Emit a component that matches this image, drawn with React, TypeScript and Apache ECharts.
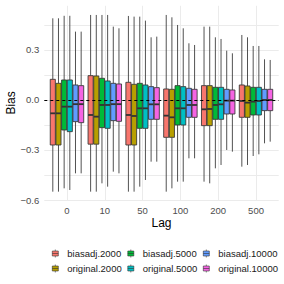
import React, { useEffect, useRef } from 'react';
import * as echarts from 'echarts';

const lagLabels = ['0', '10', '50', '100', '200', '500'];
const seriesNames = ['biasadj.2000', 'original.2000', 'biasadj.5000', 'original.5000', 'biasadj.10000', 'original.10000'];
const seriesColors = ['#F8766D', '#B79F00', '#00BA38', '#00BFC4', '#619CFF', '#F564E3'];

// Each row: [lower whisker, Q1, median, Q3, upper whisker] for lags 0,10,50,100,200,500
const biasadj2000 = [
  [-0.55, -0.27, -0.08, 0.124, 0.49],
  [-0.55, -0.265, -0.09, 0.146, 0.51],
  [-0.55, -0.27, -0.09, 0.106, 0.504],
  [-0.55, -0.224, -0.094, 0.066, 0.51],
  [-0.49, -0.154, -0.056, 0.086, 0.44],
  [-0.40, -0.104, -0.006, 0.09, 0.39],
];
const original2000 = [
  [-0.55, -0.27, -0.08, 0.10, 0.49],
  [-0.55, -0.265, -0.10, 0.144, 0.51],
  [-0.55, -0.27, -0.096, 0.094, 0.50],
  [-0.53, -0.224, -0.104, 0.064, 0.496],
  [-0.50, -0.154, -0.054, 0.086, 0.44],
  [-0.39, -0.104, -0.016, 0.084, 0.376],
];
const biasadj5000 = [
  [-0.53, -0.18, -0.04, 0.12, 0.505],
  [-0.50, -0.166, -0.03, 0.13, 0.51],
  [-0.52, -0.17, -0.05, 0.10, 0.50],
  [-0.49, -0.15, -0.05, 0.086, 0.45],
  [-0.41, -0.116, -0.03, 0.076, 0.376],
  [-0.336, -0.09, -0.01, 0.076, 0.324],
];
const original5000 = [
  [-0.54, -0.19, -0.04, 0.12, 0.505],
  [-0.52, -0.17, -0.03, 0.114, 0.51],
  [-0.48, -0.17, -0.05, 0.09, 0.476],
  [-0.49, -0.15, -0.05, 0.08, 0.43],
  [-0.39, -0.116, -0.026, 0.076, 0.366],
  [-0.326, -0.09, -0.006, 0.076, 0.324],
];
const biasadj10000 = [
  [-0.44, -0.13, -0.025, 0.09, 0.41],
  [-0.43, -0.124, -0.025, 0.10, 0.44],
  [-0.37, -0.116, -0.026, 0.08, 0.376],
  [-0.35, -0.104, -0.03, 0.07, 0.34],
  [-0.30, -0.084, -0.004, 0.064, 0.296],
  [-0.26, -0.064, 0.0, 0.064, 0.244],
];
const original10000 = [
  [-0.44, -0.136, -0.025, 0.086, 0.41],
  [-0.44, -0.128, -0.025, 0.096, 0.43],
  [-0.37, -0.116, -0.026, 0.074, 0.38],
  [-0.35, -0.104, -0.03, 0.064, 0.33],
  [-0.31, -0.084, -0.004, 0.06, 0.28],
  [-0.25, -0.064, 0.0, 0.064, 0.24],
];
const seriesData = [biasadj2000, original2000, biasadj5000, original5000, biasadj10000, original10000];

const FONT = 'Liberation Sans, Arial, sans-serif';
const keyIcon = 'path://M3,0 L3,1.5 M0,1.5 L6,1.5 L6,6.5 L0,6.5 Z M0,4 L6,4 M3,6.5 L3,8';

export default function App() {
  const ref = useRef<HTMLDivElement>(null);
  useEffect(() => {
    document.body.style.margin = '0';
    const chart = echarts.init(ref.current as HTMLDivElement, null, { renderer: 'svg' });
    const slot = 0.15;
    const boxFrac = 0.9;
    const stroke = '#333333';
    const boxSeries: any[] = seriesNames.map((name, si) => ({
      name,
      type: 'custom',
      itemStyle: { color: seriesColors[si] },
      data: seriesData[si].map((d, gi) => [gi, ...d]),
      encode: { x: 0, y: [1, 2, 3, 4, 5] },
      z: 3,
      renderItem: (params: any, api: any) => {
        const gi = api.value(0);
        const unit = api.size([1, 0])[0];
        const cx = api.coord([gi, 0])[0] + (si - 2.5) * slot * unit;
        const w = slot * boxFrac * unit;
        const y = (k: number) => api.coord([gi, api.value(k)])[1];
        const yLow = y(1), yQ1 = y(2), yMed = y(3), yQ3 = y(4), yHigh = y(5);
        return {
          type: 'group',
          children: [
            { type: 'line', shape: { x1: cx, y1: yHigh, x2: cx, y2: yQ3 }, style: { stroke, lineWidth: 0.85 } },
            { type: 'line', shape: { x1: cx, y1: yQ1, x2: cx, y2: yLow }, style: { stroke, lineWidth: 0.85 } },
            { type: 'rect', shape: { x: cx - w / 2, y: yQ3, width: w, height: yQ1 - yQ3 }, style: { fill: seriesColors[si], stroke, lineWidth: 0.85 } },
            { type: 'line', shape: { x1: cx - w / 2, y1: yMed, x2: cx + w / 2, y2: yMed }, style: { stroke, lineWidth: 1.8 } },
          ],
        };
      },
    }));
    boxSeries.push({
      type: 'line',
      data: [],
      z: 5,
      markLine: {
        silent: true,
        symbol: 'none',
        label: { show: false },
        lineStyle: { color: '#000', type: [3, 3], width: 1 },
        data: [{ yAxis: 0 }],
      },
    });

    const legends = seriesNames.map((n, i) => ({
      data: [n],
      left: 52 + Math.floor(i / 2) * 75.5,
      top: 248.5 + (i % 2) * 15,
      padding: 0,
      itemWidth: 6,
      itemHeight: 8,
      icon: keyIcon,
      selectedMode: false,
      itemStyle: { borderColor: '#333333', borderWidth: 0.6 },
      textStyle: { fontSize: 9.5, color: '#1a1a1a', fontFamily: FONT, padding: [0, 0, 0, 4] },
    }));

    chart.setOption({
      animation: false,
      backgroundColor: '#ffffff',
      grid: { left: 44.3, right: 5.3, top: 5.8, height: 194.2, containLabel: false, outerBoundsMode: 'none' },
      xAxis: {
        type: 'value',
        min: -0.6,
        max: 5.6,
        splitNumber: 6,
        name: 'Lag',
        nameLocation: 'middle',
        nameGap: 17,
        nameMoveOverlap: false,
        nameTextStyle: { fontSize: 12, color: '#000', fontFamily: FONT },
        axisLine: { show: false },
        axisTick: { show: false },
        axisLabel: {
          show: true,
          margin: 5,
          fontSize: 9.5,
          color: '#4D4D4D',
          fontFamily: FONT,
          showMinLabel: false,
          showMaxLabel: false,
          formatter: (v: number) => {
            const r = Math.round(v);
            return Math.abs(r - v) < 1e-6 && lagLabels[r] !== undefined ? lagLabels[r] : '';
          },
        },
        splitLine: { show: true, showMinLine: false, showMaxLine: false, lineStyle: { color: '#EBEBEB', width: 1 } },
      },
      yAxis: {
        type: 'value',
        min: -0.6,
        max: 0.565,
        interval: 0.15,
        name: 'Bias',
        nameLocation: 'middle',
        nameRotate: 90,
        nameGap: 33,
        nameMoveOverlap: false,
        nameTextStyle: { fontSize: 12, color: '#000', fontFamily: FONT, verticalAlign: 'middle' },
        axisLine: { show: false },
        axisTick: { show: false },
        axisLabel: {
          margin: 5,
          fontSize: 9.5,
          color: '#4D4D4D',
          fontFamily: FONT,
          showMaxLabel: false,
          formatter: (v: number) => {
            const k = Math.round(v / 0.3);
            if (Math.abs(k * 0.3 - v) > 1e-6) return '';
            const s = Math.abs(k * 0.3).toFixed(1);
            return k < 0 ? '\u2212' + s : s;
          },
        },
        splitLine: { show: true, showMaxLine: false, lineStyle: { color: '#EBEBEB', width: 1 } },
      },
      legend: legends,
      series: boxSeries,
    });
    return () => chart.dispose();
  }, []);
  return <div ref={ref} style={{ width: 284, height: 284 }} />;
}
